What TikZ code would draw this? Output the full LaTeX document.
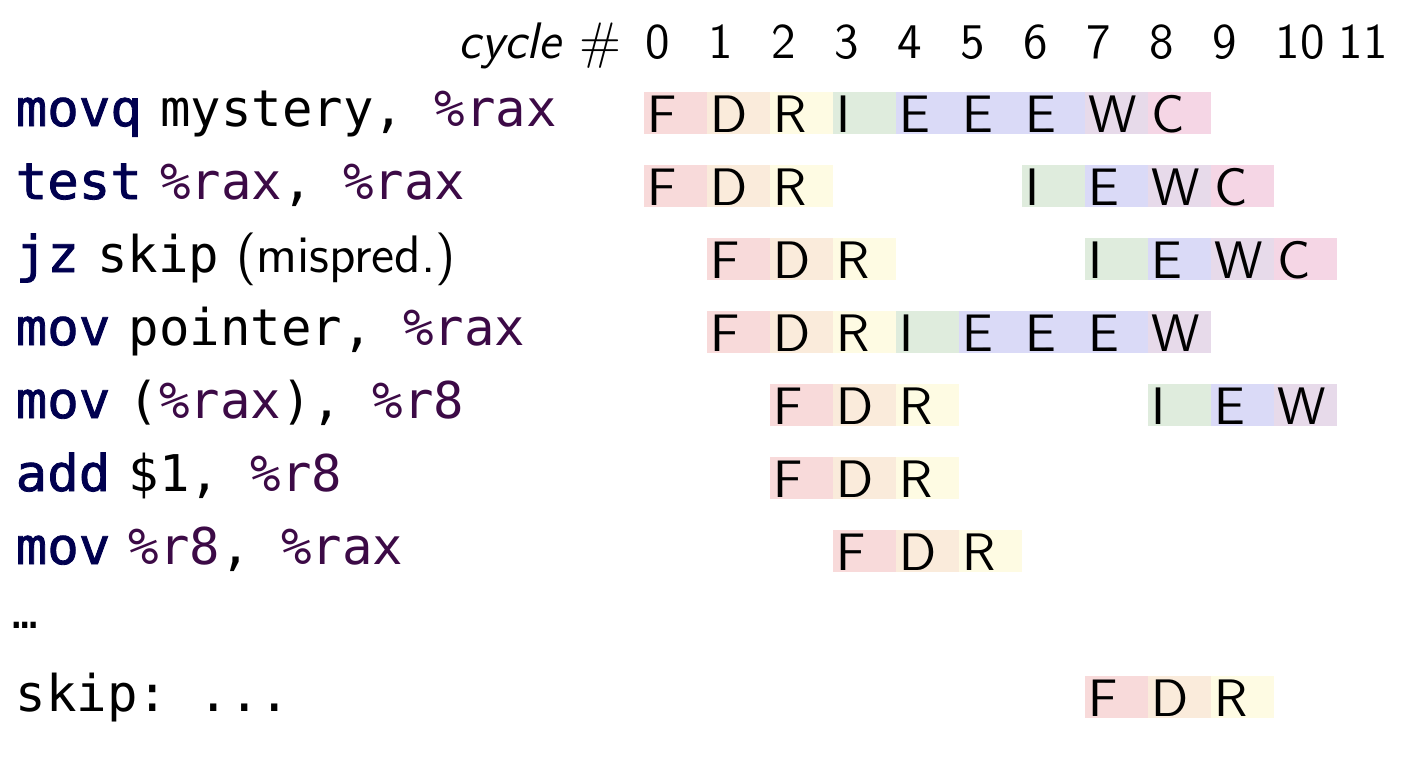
\documentclass[tikz,border=0pt]{standalone}
\usepackage{fontspec}
\newfontfamily\codefont{DejaVu Sans Mono}
\newfontfamily\mnemfont[FakeBold=1.6, FakeStretch=1.035]{DejaVu Sans Mono}
\definecolor{mnem}{HTML}{00004F}
\definecolor{reg}{HTML}{3C0A46}
\definecolor{cF}{HTML}{F8DADA}
\definecolor{cD}{HTML}{FAEBDB}
\definecolor{cR}{HTML}{FEFBE3}
\definecolor{cI}{HTML}{DFECDD}
\definecolor{cE}{HTML}{DADAF7}
\definecolor{cW}{HTML}{E7DAEA}
\definecolor{cC}{HTML}{F5D6E5}
\newcommand\mn[1]{{\mnemfont\color{mnem}#1}\hspace{0.185cm}}
\newcommand\rg[1]{{\color{reg}#1}}
\frenchspacing
\tikzset{
  cellbox/.style={inner xsep=0.04cm, inner ysep=0pt, text width=0.555cm, align=left,
    text height=0.40cm, text depth=0.02cm, anchor=base west,
    font=\fontsize{15}{18}\selectfont\sffamily},
  code/.style={anchor=base west, inner sep=0pt, font=\fontsize{14.4}{17}\selectfont\codefont\frenchspacing},
  hdr/.style={anchor=base west, inner sep=0pt, font=\fontsize{14.2}{17}\selectfont\sffamily},
}
\begin{document}
\begin{tikzpicture}[x=0.01cm, y=-0.01cm]
\useasboundingbox (0,0) rectangle (1410,756);
% header
\node[hdr, anchor=base east] (cyc) at (622,58) {\fontsize{14.6}{17}\selectfont\textit{cycle} \#};
\foreach \c in {0,...,11}
  \node[hdr] (h\c) at ({645+63*\c},58) {\c};
% code lines
\node[code] (l0) at (15,126) {\mn{movq}mystery, \rg{\%rax}};
\node[code] (l1) at (15,199) {\mn{test}\rg{\%rax}, \rg{\%rax}};
\node[code] (l2) at (15,272) {\mn{jz}skip{\sffamily\fontsize{15}{18}\selectfont\ (mispred.)}};
\node[code] (l3) at (15,345) {\mn{mov}pointer, \rg{\%rax}};
\node[code] (l4) at (15,418) {\mn{mov}(\rg{\%rax}), \rg{\%r8}};
\node[code] (l5) at (15,491) {\mn{add}\$1, \rg{\%r8}};
\node[code] (l6) at (15,564) {\mn{mov}\rg{\%r8}, \rg{\%rax}};
\node[code, font=\fontsize{12}{14}\selectfont\codefont] (l7) at (12,628) {…};
\node[code] (l8) at (15,711) {skip: ...};
% pipeline cells
\foreach \r/\c/\L in {
  0/0/F, 0/1/D, 0/2/R, 0/3/I, 0/4/E, 0/5/E, 0/6/E, 0/7/W, 0/8/C,
  1/0/F, 1/1/D, 1/2/R, 1/6/I, 1/7/E, 1/8/W, 1/9/C,
  2/1/F, 2/2/D, 2/3/R, 2/7/I, 2/8/E, 2/9/W, 2/10/C,
  3/1/F, 3/2/D, 3/3/R, 3/4/I, 3/5/E, 3/6/E, 3/7/E, 3/8/W,
  4/2/F, 4/3/D, 4/4/R, 4/8/I, 4/9/E, 4/10/W,
  5/2/F, 5/3/D, 5/4/R,
  6/3/F, 6/4/D, 6/5/R,
  8/7/F, 8/8/D, 8/9/R}
  \node[cellbox, fill=c\L] (s\r-\c) at ({643+63*\c},{132+73*\r}) {\L};
\end{tikzpicture}
\end{document}
